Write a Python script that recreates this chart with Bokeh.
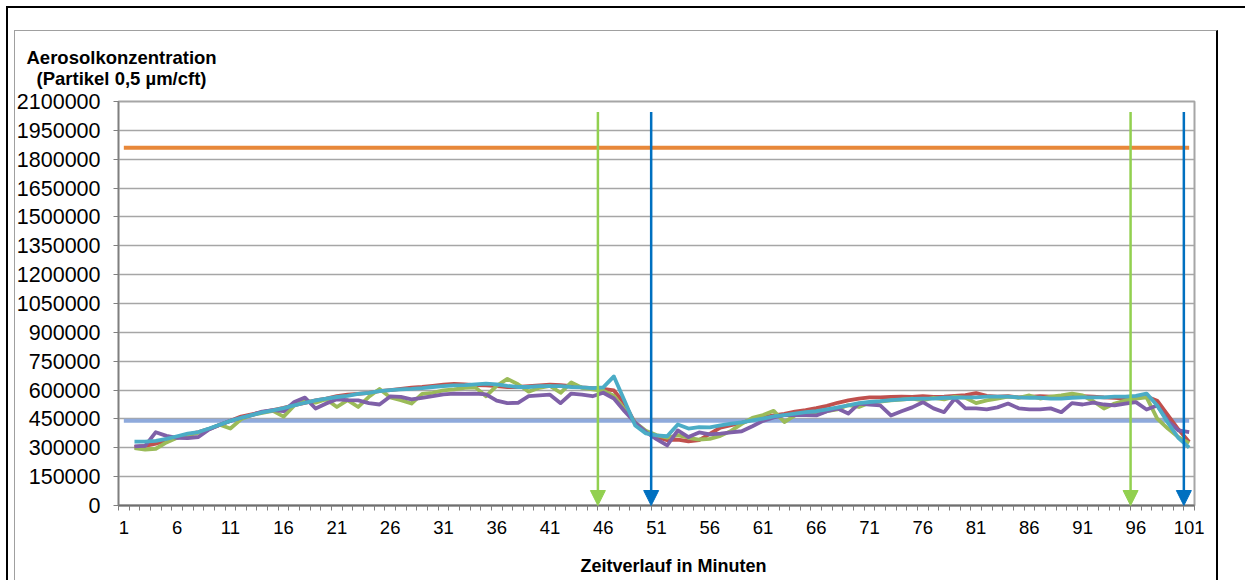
from bokeh.plotting import figure
from bokeh.models import Range1d, FixedTicker, Arrow, NormalHead, Title, InlineStyleSheet
from bokeh.embed import file_html
from bokeh.resources import INLINE

# ---------------- data ----------------
minutes_all = list(range(1, 102))
minutes = list(range(2, 102))

series_red = [
    305000, 310000, 322000, 338000, 352000, 368000, 382000, 398000, 418000, 440000,
    462000, 474000, 486000, 496000, 508000, 522000, 534000, 546000, 556000, 568000,
    576000, 580000, 586000, 594000, 600000, 606000, 612000, 616000, 622000, 628000,
    632000, 630000, 626000, 624000, 620000, 616000, 616000, 620000, 624000, 628000,
    626000, 620000, 614000, 610000, 606000, 598000, 530000, 428000, 382000, 356000,
    340000, 342000, 334000, 340000, 372000, 405000, 418000, 430000, 446000, 458000,
    468000, 476000, 488000, 496000, 506000, 518000, 534000, 546000, 556000, 562000,
    562000, 564000, 566000, 564000, 568000, 564000, 566000, 570000, 574000, 584000,
    570000, 566000, 568000, 562000, 564000, 568000, 566000, 562000, 564000, 568000,
    566000, 562000, 560000, 556000, 560000, 566000, 545000, 470000, 395000, 330000,
]
series_green = [
    298000, 291000, 295000, 328000, 352000, 366000, 378000, 398000, 420000, 400000,
    448000, 470000, 482000, 492000, 462000, 520000, 545000, 535000, 552000, 512000,
    548000, 512000, 565000, 606000, 562000, 548000, 530000, 580000, 586000, 598000,
    604000, 612000, 614000, 568000, 622000, 658000, 630000, 592000, 612000, 622000,
    586000, 640000, 612000, 604000, 596000, 570000, 500000, 432000, 388000, 366000,
    352000, 366000, 352000, 343000, 346000, 362000, 388000, 424000, 456000, 470000,
    492000, 434000, 468000, 480000, 474000, 490000, 500000, 522000, 512000, 534000,
    540000, 546000, 550000, 556000, 546000, 560000, 552000, 566000, 560000, 532000,
    546000, 556000, 566000, 560000, 572000, 556000, 566000, 572000, 582000, 572000,
    542000, 504000, 530000, 546000, 556000, 562000, 452000, 400000, 355000, 324000,
]
series_purple = [
    307000, 310000, 381000, 362000, 352000, 350000, 356000, 395000, 420000, 440000,
    456000, 470000, 488000, 496000, 490000, 538000, 561000, 504000, 530000, 552000,
    548000, 546000, 532000, 525000, 567000, 565000, 552000, 560000, 568000, 578000,
    582000, 580000, 582000, 578000, 545000, 532000, 534000, 568000, 572000, 576000,
    532000, 582000, 576000, 568000, 586000, 556000, 490000, 430000, 382000, 345000,
    312000, 390000, 356000, 380000, 370000, 374000, 380000, 386000, 412000, 440000,
    458000, 470000, 470000, 470000, 468000, 490000, 504000, 478000, 530000, 525000,
    520000, 468000, 490000, 510000, 537000, 505000, 485000, 556000, 505000, 505000,
    500000, 510000, 530000, 505000, 500000, 500000, 505000, 485000, 532000, 525000,
    535000, 525000, 520000, 530000, 537000, 499000, 520000, 440000, 390000, 381000,
]
series_teal = [
    332000, 332000, 336000, 346000, 360000, 374000, 382000, 400000, 420000, 440000,
    456000, 470000, 484000, 494000, 506000, 520000, 534000, 546000, 556000, 564000,
    570000, 580000, 586000, 594000, 600000, 604000, 606000, 610000, 616000, 620000,
    624000, 626000, 630000, 634000, 630000, 622000, 616000, 616000, 620000, 620000,
    620000, 616000, 614000, 610000, 614000, 671000, 545000, 416000, 375000, 365000,
    360000, 421000, 400000, 407000, 406000, 416000, 425000, 432000, 442000, 452000,
    463000, 470000, 478000, 485000, 490000, 500000, 510000, 520000, 532000, 538000,
    542000, 548000, 552000, 554000, 556000, 556000, 560000, 560000, 562000, 562000,
    566000, 566000, 566000, 562000, 560000, 560000, 556000, 556000, 560000, 562000,
    562000, 562000, 566000, 566000, 570000, 582000, 520000, 430000, 350000, 301000,
]
limit_upper = [1860000] * len(minutes_all)
limit_lower = [440000] * len(minutes_all)

arrow_green_minutes = [45.5, 95.5]
arrow_blue_minutes = [50.5, 100.5]
arrow_top = 2045000

y_ticks = [0, 150000, 300000, 450000, 600000, 750000, 900000, 1050000, 1200000,
           1350000, 1500000, 1650000, 1800000, 1950000, 2100000]
y_tick_labels = ["0", "150000", "300000", "450000", "600000", "750000", "900000",
                 "1050000", "1200000", "1350000", "1500000", "1650000", "1800000",
                 "1950000", "2100000"]
x_ticks = [1, 6, 11, 16, 21, 26, 31, 36, 41, 46, 51, 56, 61, 66, 71, 76, 81, 86, 91, 96, 101]
x_tick_labels = [str(t) for t in x_ticks]

title_line1 = "Aerosolkonzentration"
title_line2 = "(Partikel 0,5 µm/cft)"
x_title = "Zeitverlauf in Minuten"

# ---------------- figure ----------------
FONT = "Liberation Sans"
W, H = 1245, 580
frame_css = InlineStyleSheet(css="""
:host::before { content: ""; position: absolute; left: 6px; top: 6px; width: 1239px; height: 574px;
  box-sizing: border-box; border-top: 2px solid #000; border-left: 2px solid #000;
  pointer-events: none; z-index: 100; }
:host::after { content: ""; position: absolute; left: 14px; top: 30px; width: 1204px; height: 550px;
  box-sizing: border-box; border-top: 1.5px solid #A0A0A0; border-left: 1.5px solid #A0A0A0;
  border-right: 2px solid #000; pointer-events: none; z-index: 100; }
""")

p = figure(width=W, height=H, output_backend="svg", toolbar_location=None,
           x_range=Range1d(0.5, 101.5), y_range=Range1d(0, 2100000),
           min_border_left=118, min_border_right=51, min_border_top=101,
           min_border_bottom=75, stylesheets=[frame_css])
p.background_fill_color = "white"
p.border_fill_color = "white"
p.outline_line_color = "#A6A6A6"
p.outline_line_width = 2

# titles (y-axis title written horizontally above the axis)
p.title.text = title_line1
p.title.align = "left"
p.title.offset = -92
p.title.standoff = -31
p.title.text_font = FONT
p.title.text_font_style = "bold"
p.title.text_font_size = "18.5px"
p.title.text_color = "black"
p.add_layout(Title(text=title_line2, align="left", offset=-82, standoff=26,
                   text_font=FONT, text_font_style="bold", text_font_size="18.5px",
                   text_color="black"), "above")

p.xgrid.visible = False
p.ygrid.grid_line_color = "#A6A6A6"
p.ygrid.grid_line_width = 1.3
p.ygrid.ticker = FixedTicker(ticks=y_ticks)

# y axis
p.yaxis.ticker = FixedTicker(ticks=y_ticks)
p.yaxis.major_label_overrides = {t: l for t, l in zip(y_ticks, y_tick_labels)}
p.yaxis.major_label_text_font = FONT
p.yaxis.major_label_text_font_size = "21.5px"
p.yaxis.major_label_text_color = "black"
p.yaxis.major_tick_out = 5
p.yaxis.major_tick_in = 0
p.yaxis.minor_tick_line_color = None
p.yaxis.major_label_standoff = 13
p.yaxis.axis_line_color = "#7F7F7F"
p.yaxis.axis_line_width = 1.5
p.yaxis.major_tick_line_color = "#7F7F7F"

# x axis
p.xaxis.ticker = FixedTicker(ticks=x_ticks, minor_ticks=[k + 0.5 for k in range(0, 102)])
p.xaxis.major_label_overrides = {t: l for t, l in zip(x_ticks, x_tick_labels)}
p.xaxis.major_label_text_font = FONT
p.xaxis.major_label_text_font_size = "18.5px"
p.xaxis.major_label_text_color = "black"
p.xaxis.major_tick_line_color = None
p.xaxis.major_tick_out = 5
p.xaxis.major_tick_in = 0
p.xaxis.minor_tick_out = 5
p.xaxis.minor_tick_in = 0
p.xaxis.minor_tick_line_color = "#7F7F7F"
p.xaxis.major_label_standoff = 10
p.xaxis.axis_line_color = "#6E6E6E"
p.xaxis.axis_line_width = 2

# x-axis title (a little right of the frame centre, as in the original)
p.add_layout(Title(text=x_title, align="left", offset=462, standoff=10,
                   padding=(0, 0, 12, 0),
                   text_font=FONT, text_font_style="bold", text_font_size="18px",
                   text_color="black"), "below")

# reference lines
p.line(minutes_all, limit_lower, line_color="#8FAADC", line_width=4)
p.line(minutes_all, limit_upper, line_color="#E8883A", line_width=4)

# data series
for ys, col in [(series_red, "#C0504D"), (series_green, "#9BBB59"),
                (series_purple, "#7F60A8"), (series_teal, "#4BACC6")]:
    p.line(minutes, ys, line_color=col, line_width=3.8, line_join="round")

# arrows
for xs, col in [(arrow_green_minutes, "#92D050"), (arrow_blue_minutes, "#0070C0")]:
    for xm in xs:
        p.add_layout(Arrow(x_start=xm, y_start=arrow_top, x_end=xm, y_end=0,
                           line_color=col, line_width=2.5,
                           end=NormalHead(size=15, fill_color=col, line_color=col, line_width=1)))

open("out.html", "w").write(file_html(p, INLINE))
